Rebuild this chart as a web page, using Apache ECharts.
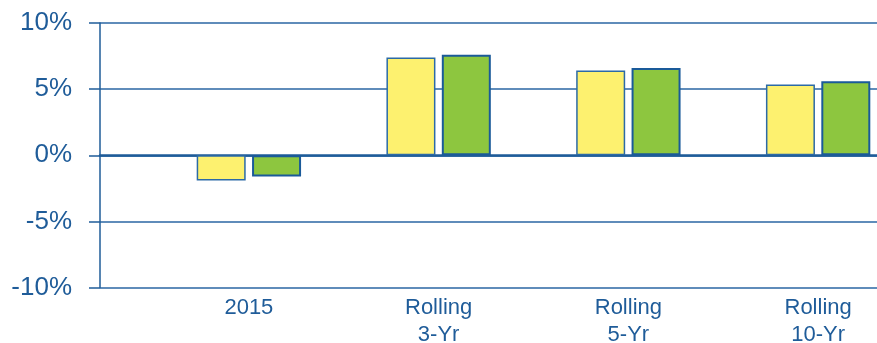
<!DOCTYPE html>
<html>
<head>
<meta charset="utf-8">
<script src="https://cdn.jsdelivr.net/npm/echarts@6/dist/echarts.min.js"></script>
<style>
  html, body { margin: 0; padding: 0; background: #fff; }
  #chart { width: 877px; height: 343px; }
</style>
</head>
<body>
<div id="chart"></div>
<script>
var categories = ['2015', 'Rolling\n3-Yr', 'Rolling\n5-Yr', 'Rolling\n10-Yr'];
var seriesA = [-1.9, 7.4, 6.4, 5.35];
var seriesB = [-1.6, 7.6, 6.6, 5.6];
var yTicks = { min: -10, max: 10, interval: 5 };

var blue = '#1f5c99';
var font = 'Liberation Sans, Arial, sans-serif';

var myChart = echarts.init(document.getElementById('chart'), null, { renderer: 'canvas' });

var option = {
  animation: false,
  grid: [
    // background grid: y axis, gridlines, zero line
    { left: 100, right: 0, top: 23, bottom: 55.5, outerBoundsMode: 'none', containLabel: false },
    // bar grid, shifted to match the category spacing
    { left: 154, width: 759, top: 23, bottom: 55.5, outerBoundsMode: 'none', containLabel: false }
  ],
  xAxis: [
    {
      gridIndex: 0,
      type: 'category',
      data: [''],
      axisLine: { show: true, onZero: true, lineStyle: { color: blue, width: 2.5 } },
      axisTick: { show: false },
      axisLabel: { show: false },
      splitLine: { show: false }
    },
    {
      gridIndex: 1,
      type: 'category',
      data: categories,
      axisLine: { show: false },
      axisTick: { show: false },
      axisLabel: {
        color: blue,
        fontFamily: font,
        fontSize: 22,
        lineHeight: 27,
        margin: 7
      },
      splitLine: { show: false }
    }
  ],
  yAxis: [
    {
      gridIndex: 0,
      type: 'value',
      min: yTicks.min,
      max: yTicks.max,
      interval: yTicks.interval,
      axisLine: { show: true, lineStyle: { color: blue, width: 1.5 } },
      axisTick: { show: true, length: 11, lineStyle: { color: blue, width: 1.5 } },
      axisLabel: {
        color: blue,
        fontFamily: font,
        fontSize: 26,
        margin: 28,
        formatter: '{value}%'
      },
      splitLine: { show: true, lineStyle: { color: '#2a66a3', width: 1.5 } }
    },
    {
      gridIndex: 1,
      type: 'value',
      min: yTicks.min,
      max: yTicks.max,
      interval: yTicks.interval,
      show: false,
      splitLine: { show: false }
    }
  ],
  series: [
    {
      name: 'A',
      type: 'bar',
      xAxisIndex: 1,
      yAxisIndex: 1,
      barWidth: 49,
      barGap: '13%',
      itemStyle: { color: '#fdf16f', borderColor: '#2c6aa6', borderWidth: 1.5 },
      data: seriesA
    },
    {
      name: 'B',
      type: 'bar',
      xAxisIndex: 1,
      yAxisIndex: 1,
      barWidth: 49,
      barGap: '13%',
      itemStyle: { color: '#8dc63f', borderColor: '#1a5a99', borderWidth: 2 },
      data: seriesB
    }
  ]
};

myChart.setOption(option);
window.addEventListener('resize', myChart.resize);
</script>
</body>
</html>
